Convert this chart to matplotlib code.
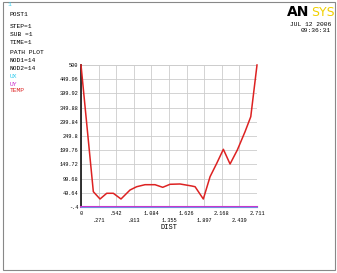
import matplotlib
matplotlib.use("Agg")
import matplotlib.pyplot as plt
import numpy as np

# Data
dist = [0.0, 0.19, 0.293, 0.396, 0.498, 0.616, 0.755, 0.858, 0.986, 1.140, 1.259,
        1.371, 1.525, 1.706, 1.757, 1.884, 1.988, 2.091, 2.193, 2.296, 2.408,
        2.527, 2.615, 2.711]
temp = [500, 53.5, 27.8, 47.9, 47.9, 27.8, 59.5, 71.1, 78.2, 78.2, 69,
        79.6, 80.7, 73.6, 71.1, 27.8, 106.4, 153.6, 202.9, 151.1, 200.5,
        265, 317.8, 500]
ux = [0.0] * len(dist)
uy = [0.0] * len(dist)

yticks = [-0.4, 49.64, 99.68, 149.72, 199.76, 249.8, 299.84, 349.88, 399.92, 449.96, 500]
ytick_labels = ["-.4", "49.64", "99.68", "149.72", "199.76", "249.8", "299.84",
                "349.88", "399.92", "449.96", "500"]
xticks = [0, 0.271, 0.542, 0.813, 1.084, 1.355, 1.626, 1.897, 2.168, 2.439, 2.711]
xtick_labels = ["0", ".271", ".542", ".813", "1.084", "1.355", "1.626", "1.897",
                "2.168", "2.439", "2.711"]

info_lines = ["STEP=1", "SUB =1", "TIME=1", "PATH PLOT", "NOD1=14", "NOD2=14"]
legend_items = [("UX", "#33ccee"), ("UY", "#cc33cc"), ("TEMP", "#dd2222")]

mono = ["Liberation Mono", "DejaVu Sans Mono"]

fig = plt.figure(figsize=(3.37, 2.73), dpi=100)
fig.patch.set_facecolor("white")

# outer frame
fig.add_artist(plt.Rectangle((3/337, 1-270/273), 332/337, 268/273,
                             transform=fig.transFigure, fill=False,
                             edgecolor="#888888", lw=0.8))

ax = fig.add_axes([81/337, 1-207/273, 176/337, 142/273])
ax.set_xlim(0, 2.711)
ax.set_ylim(-0.4, 500)
for s in ["top", "right", "bottom"]:
    ax.spines[s].set_visible(False)
ax.spines["left"].set_color("#111111")
ax.spines["left"].set_linewidth(1.2)
ax.set_xticks(xticks)
ax.set_yticks(yticks)
ax.set_yticklabels(ytick_labels, fontsize=3.8, family=mono)
ax.set_xticklabels([])
ax.tick_params(length=0, pad=2)
ax.grid(True, color="#cccccc", lw=0.6)
ax.axhline(500, color="#cccccc", lw=0.6)
ax.axvline(2.711, color="#cccccc", lw=0.6)

ax.plot(dist, uy, color="#cc33cc", lw=1.5, clip_on=False, zorder=3)
ax.plot(dist, ux, color="#33ccee", lw=0.8, alpha=0.6, clip_on=False, zorder=4)
ax.plot(dist, temp, color="#dd2222", lw=1.1, clip_on=False, zorder=5)

for i, (xv, lab) in enumerate(zip(xticks, xtick_labels)):
    yoff = -5 if i % 2 == 0 else -9.5
    ax.annotate(lab, (xv, -0.4), xytext=(0, yoff), textcoords="offset points",
                ha="center", va="center", fontsize=3.8, family=mono)
ax.annotate("DIST", (1.355, -0.4), xytext=(0, -15), textcoords="offset points",
            ha="center", va="center", fontsize=5, family=mono)

fig.text(7/337, 1-5/273, "1", color="#33ccee", fontsize=4.5, family=mono, va="center")
fig.text(10/337, 1-15/273, "POST1", fontsize=4.5, family=mono, va="center")
yy = [27, 35, 43, 52, 60, 68]
for t, y in zip(info_lines, yy):
    fig.text(10/337, 1-y/273, t, fontsize=4.5, family=mono, va="center")
for (t, c), y in zip(legend_items, [76, 84, 91]):
    fig.text(10/337, 1-y/273, t, color=c, fontsize=4.5, family=mono, va="center")

fig.text(287/337, 1-12/273, "AN", fontsize=10, fontweight="bold",
         family="DejaVu Sans", va="center", color="black")
fig.text(311/337, 1-12/273, "SYS", fontsize=9, family="DejaVu Sans",
         va="center", color="#f0d000")
fig.text(331/337, 1-24/273, "JUL 12 2006", fontsize=4.5, family=mono,
         ha="right", va="center")
fig.text(331/337, 1-31/273, "09:36:31", fontsize=4.5, family=mono,
         ha="right", va="center")

fig.savefig("out.png", dpi=100)
